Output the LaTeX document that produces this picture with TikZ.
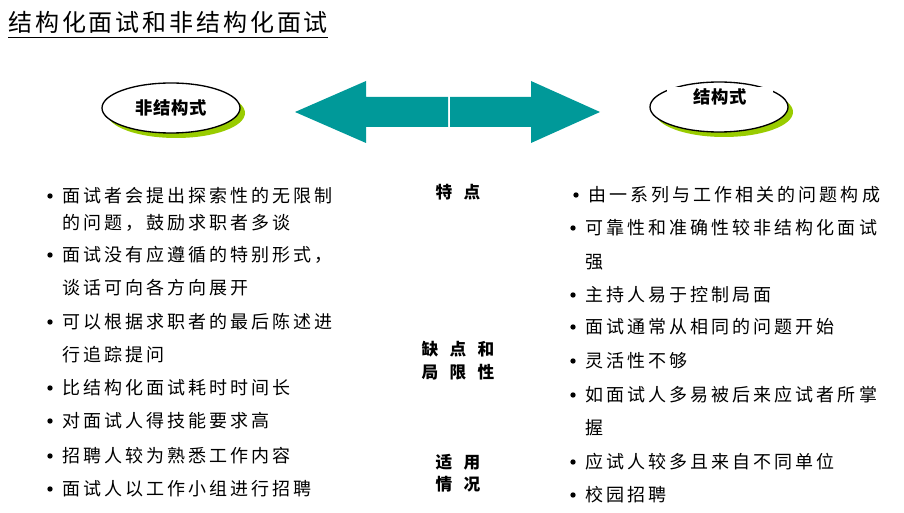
\documentclass[tikz,border=0pt]{standalone}
\usepackage{fontspec}
\usepackage{xcolor}
\usetikzlibrary{positioning,shapes.geometric}
\newfontfamily\bodycjk[LetterSpace=17]{Noto Sans CJK SC}
\newfontfamily\titlecjk[LetterSpace=12]{Noto Sans CJK SC}
\newfontfamily\ovalcjk[LetterSpace=5]{Noto Sans CJK SC}
\newfontfamily\headcjk{Noto Sans CJK SC}
\newcommand\gap{\hspace{8.5pt}}
\definecolor{arrowteal}{HTML}{009999}
\definecolor{shadegreen}{HTML}{99CC00}
\tikzset{
titletext/.style={
anchor=west,
inner sep=0pt,
font=\titlecjk\fontsize{18}{21}\selectfont
},
oval/.style={
ellipse,
draw,
line width=1pt,
fill=white,
minimum width=103.5pt,
minimum height=37.5pt,
inner sep=0pt,
font=\ovalcjk\bfseries\fontsize{13}{15}\selectfont
},
ovalshade/.style={
ellipse,
fill=shadegreen,
minimum width=103.5pt,
minimum height=37.5pt,
inner sep=0pt
},
head/.style={
align=center,
inner sep=0pt,
font=\headcjk\bfseries\fontsize{12.5}{17}\selectfont
},
item/.style={
anchor=west,
inner sep=0pt,
font=\bodycjk\fontsize{13.5}{16}\selectfont
},
dot/.style={
circle,
fill=black,
inner sep=0pt,
minimum size=4pt
},
bigarrow/.style={
fill=arrowteal
}
}
\begin{document}
\begin{tikzpicture}[x=0.75pt,y=-0.75pt]
\useasboundingbox (0,0) rectangle (904,513);

\node[titletext](title) at (8,22){结构化面试和非结构化面试};
\draw[line width=1.1pt] ([yshift=-3pt]title.south west) -- ([yshift=-3pt]title.south east);

\node[ovalshade](frees) at (176,113){};
\node[oval](free) at (171,108){非结构式};
\node[ovalshade](fixs) at (724,112){};
\node[oval](fix) at (719,107){};
\node[oval,draw=none,fill=white,rectangle,minimum width=79.5pt,minimum height=15pt](fixt) at (720,97){结构式};

\fill[bigarrow] (448,97) -- (366,97) -- (366,81) -- (295,112) -- (366,143) -- (366,127) -- (448,127) -- cycle;
\fill[bigarrow] (450,97) -- (531,97) -- (531,81) -- (600,112) -- (531,143) -- (531,127) -- (450,127) -- cycle;

\node[head](feat) at (458,192){特\gap 点};
\node[head](weak) at (458,361){缺\gap 点\gap 和\\局\gap 限\gap 性};
\node[head](use) at (458,473){适\gap 用\\情\gap 况};

\foreach \y/\t in {196/面试者会提出探索性的无限制,223/的问题，鼓励求职者多谈,255/面试没有应遵循的特别形式，,288/谈话可向各方向展开,322/可以根据求职者的最后陈述进,355/行追踪提问,388/比结构化面试耗时时间长,421/对面试人得技能要求高,456/招聘人较为熟悉工作内容,489/面试人以工作小组进行招聘}
\node[item](l\y) at (62,\y){\t};
\foreach \y in {196,255,322,388,421,456,489}
\node[dot](ld\y) at (50,\y){};

\node[item](r195) at (588,195){由一系列与工作相关的问题构成};
\foreach \y/\t in {228/可靠性和准确性较非结构化面试,262/强,295/主持人易于控制局面,327/面试通常从相同的问题开始,361/灵活性不够,395/如面试人多易被后来应试者所掌,428/握,462/应试人较多且来自不同单位,495/校园招聘}
\node[item](r\y) at (585,\y){\t};
\node[dot](rd195) at (576,195){};
\foreach \y in {228,295,327,361,395,462,495}
\node[dot](rd\y) at (573,\y){};

\end{tikzpicture}
\end{document}
